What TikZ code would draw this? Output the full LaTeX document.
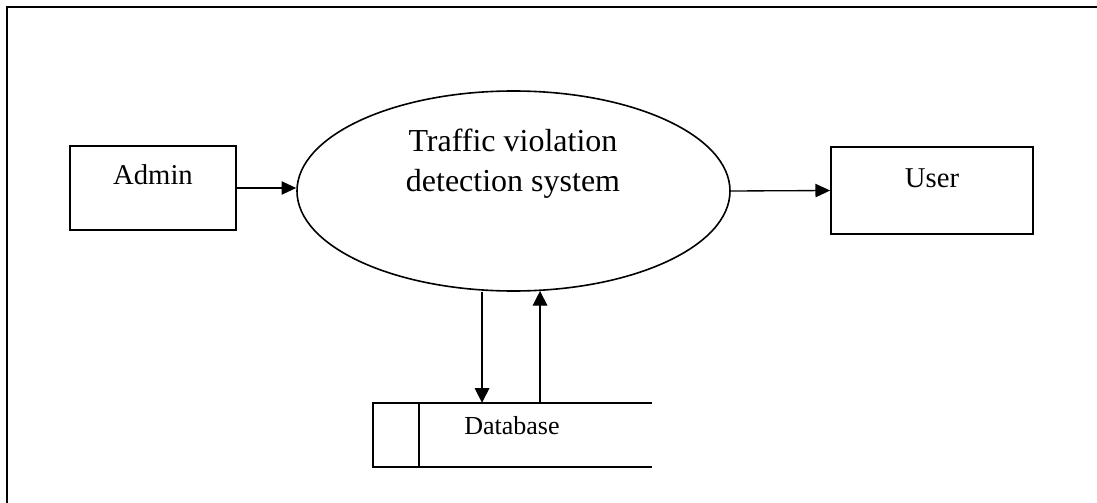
\documentclass[tikz,border=0pt]{standalone}
\usepackage{fontspec}
\setmainfont{Liberation Serif}
\usetikzlibrary{shapes.geometric,arrows.meta}
\begin{document}
\begin{tikzpicture}[x=0.75pt,y=-0.75pt,
  entity/.style={draw,line width=1.3pt,inner sep=0pt,minimum width=#1},
  proc/.style={draw,ellipse,line width=1.2pt,inner sep=0pt,minimum width=324.75pt,minimum height=150pt},
  flow/.style={line width=1pt,-{Triangle[length=11pt,width=10pt]}},
  vflow/.style={line width=1pt,-{Triangle[length=11pt,width=11pt]}},
  frameline/.style={line width=1.8pt},
  lbl/.style={anchor=base,inner sep=0pt,font=\fontsize{21.5}{26}\selectfont}]
\useasboundingbox (0,0) rectangle (1097,503);

% open frame (top and left edges)
\draw[frameline] (7,503) -- (7,7) -- (1097,7);

% external entities
\node[entity=124.5pt,minimum height=63pt] (admin) at (153,188) {};
\node[lbl] (admintext) at (153,185) {Admin};
\node[entity=151.5pt,minimum height=65.25pt] (user) at (932,190.5) {};
\node[lbl] (usertext) at (932,187) {User};

% central process
\node[proc] (sys) at (513.5,191) {};
\node[anchor=base,inner sep=0pt,align=center,font=\fontsize{24}{30}\selectfont] (systext) at (513,191) {Traffic violation\\detection system};

% data store, open on the right
\node[inner sep=0pt,minimum width=209.25pt,minimum height=48pt] (db) at (512.5,435) {};
\coordinate (dbdiv) at (419,403);
\draw[line width=1.3pt] (db.north east) -- (db.north west) -- (db.south west) -- (db.south east);
\draw[line width=1.3pt] (dbdiv) -- (dbdiv |- db.south);
\node[anchor=base,inner sep=0pt,font=\fontsize{19.5}{24}\selectfont] (dbtext) at (512,434) {Database};

% data flows
\draw[flow] (admin.east) -- (admin.east -| sys.west);
\draw[flow] (sys.east) -- (user.west);
\draw[vflow] ([xshift=-23.6pt]sys.south) -- ([xshift=-23.6pt]sys.south |- db.north);
\draw[vflow] ([xshift=19.9pt]sys.south |- db.north) -- ([xshift=19.9pt,yshift=0.6pt]sys.south);
\end{tikzpicture}
\end{document}
